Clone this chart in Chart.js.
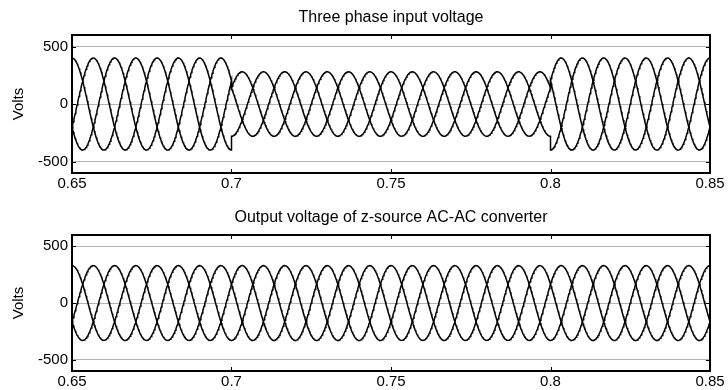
<!DOCTYPE html>
<html lang="en">
<head>
  <meta charset="UTF-8" />
  <title>Z-source AC-AC converter voltages</title>
  <style>
    html, body { margin: 0; padding: 0; background: #fff; }
    .plot { position: absolute; left: 0; width: 728px; }
  </style>
</head>
<body>
  <div class="plot" style="top:0;height:190px;"><canvas id="inputChart"></canvas></div>
  <div class="plot" style="top:190px;height:200px;"><canvas id="outputChart"></canvas></div>
  <script src="https://cdn.jsdelivr.net/npm/chart.js@4.4.1/dist/chart.umd.min.js"></script>
  <script>
// values
const xTicks = [0.65, 0.7, 0.75, 0.8, 0.85]
const yTicks = [-500, 0, 500]
const yRange = [-600, 600]
const phaseShiftDeg = [0, -120, 120]
const lineFreqHz = 50
// input: sag between 0.7 s and 0.8 s
const inputSegTimes = [0.65, 0.7, 0.8, 0.85]
const inputPeakVolts = [400, 280, 400]
// output: held constant by the converter
const outputSegTimes = [0.65, 0.85]
const outputPeakVolts = [330]

const sampleStep = 0.0002

Chart.defaults.font.family = '"Liberation Sans", Arial, sans-serif'
Chart.defaults.color = '#000'

// sample each phase segment by segment, so a step shows as a vertical edge
const buildPhase = (segTimes, peaks, shiftDeg) => {
  const pts = []
  const t0 = segTimes[0]
  for (let s = 0; s < peaks.length; s++) {
    const a = segTimes[s], b = segTimes[s + 1]
    const n = Math.round((b - a) / sampleStep)
    for (let i = 0; i <= n; i++) {
      const t = a + (b - a) * i / n
      const ang = 2 * Math.PI * lineFreqHz * (t - t0) + shiftDeg * Math.PI / 180
      pts.push({ x: t, y: peaks[s] * Math.cos(ang) })
    }
  }
  return pts
}

const framePlugin = {
  id: 'frame',
  afterDraw(chart, args, opts) {
    const { ctx, chartArea: ca, scales } = chart
    ctx.save()
    ctx.strokeStyle = '#000'
    ctx.lineWidth = 1
    const tl = 4
    ctx.beginPath()
    xTicks.forEach(v => {
      const px = Math.round(scales.x.getPixelForValue(v)) + 0.5
      ctx.moveTo(px, ca.bottom); ctx.lineTo(px, ca.bottom - tl)
      ctx.moveTo(px, ca.top); ctx.lineTo(px, ca.top + tl)
    })
    yTicks.forEach(v => {
      const py = Math.round(scales.y.getPixelForValue(v)) + 0.5
      ctx.moveTo(ca.left, py); ctx.lineTo(ca.left + tl, py)
      ctx.moveTo(ca.right, py); ctx.lineTo(ca.right - tl, py)
    })
    ctx.stroke()
    ctx.lineWidth = 2
    ctx.strokeRect(ca.left, ca.top, ca.right - ca.left, ca.bottom - ca.top)
    // title centred over the plot box
    ctx.fillStyle = '#000'
    ctx.font = '16px "Liberation Sans", Arial, sans-serif'
    ctx.textAlign = 'center'
    ctx.textBaseline = 'middle'
    ctx.fillText(opts.text, (ca.left + ca.right) / 2, opts.y)
    ctx.restore()
  }
}

const makeChart = (id, segTimes, peaks, title, padTop, xHeight, titleY) => {
  const datasets = phaseShiftDeg.map((sh, i) => ({
    label: 'Phase ' + 'ABC'[i],
    data: buildPhase(segTimes, peaks, sh),
    borderColor: '#000',
    borderWidth: 1.5,
    pointRadius: 0,
    tension: 0
  }))
  return new Chart(document.getElementById(id), {
    type: 'line',
    data: { datasets },
    plugins: [framePlugin],
    options: {
      responsive: true,
      maintainAspectRatio: false,
      animation: false,
      layout: { padding: { top: padTop, right: 18, left: 0, bottom: 0 } },
      plugins: {
        legend: { display: false },
        tooltip: { enabled: false },
        frame: { text: title, y: titleY }
      },
      scales: {
        x: {
          type: 'linear',
          min: xTicks[0],
          max: xTicks[xTicks.length - 1],
          afterBuildTicks: s => { s.ticks = xTicks.map(v => ({ value: v })) },
          afterFit: s => { s.height = xHeight },
          grid: { display: false, drawTicks: false },
          border: { display: false },
          ticks: {
            padding: 2,
            maxRotation: 0,
            font: { size: 15 },
            callback: v => String(+v.toFixed(2))
          }
        },
        y: {
          min: yRange[0],
          max: yRange[1],
          afterBuildTicks: s => { s.ticks = yTicks.map(v => ({ value: v })) },
          afterFit: s => { s.width = 72 },
          grid: { color: '#b4b4b4', lineWidth: 1, drawTicks: false },
          border: { display: false },
          ticks: { padding: 4, font: { size: 15 } },
          title: {
            display: true,
            text: 'Volts',
            font: { size: 15 },
            padding: { top: 10, bottom: 0 }
          }
        }
      }
    }
  })
}

makeChart('inputChart', inputSegTimes, inputPeakVolts, 'Three phase input voltage', 35, 17, 18)
makeChart('outputChart', outputSegTimes, outputPeakVolts, 'Output voltage of z-source AC-AC converter', 45, 19, 28)
  </script>
</body>
</html>
